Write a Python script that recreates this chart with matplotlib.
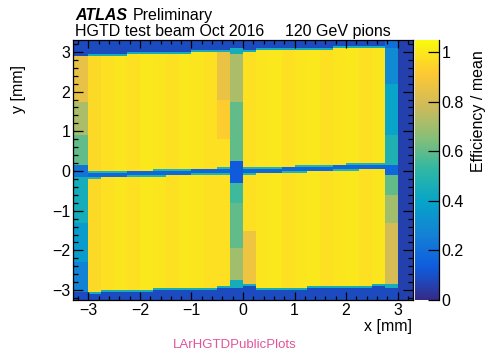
import numpy as np
import matplotlib
matplotlib.use('Agg')
import matplotlib.pyplot as plt
from matplotlib.colors import LinearSegmentedColormap, Normalize
from matplotlib.ticker import MultipleLocator

plt.rcParams['font.family'] = ['Liberation Sans', 'DejaVu Sans']

# ---- data ----
# x bins (mm): 26 columns
x_edges = np.array([-3.3] + list(np.arange(-3.0, 3.01, 0.25)) + [3.3])
# y bins (mm)
y_edges = np.arange(-3.3, 3.301, 0.05)

# efficiency level in the middle of each pad column (nan = special column)
pad_val = [np.nan, 0.96, 0.98, 0.99, 0.98, 1.00, 0.99, 0.98, 1.00, 0.99, 0.98, 0.98, np.nan,
           0.98, 0.99, 1.00, 0.98, 0.99, 1.00, 0.98, 0.99, 1.00, 0.98, 0.99, np.nan, np.nan]
# upper / lower edge of the sensitive pads per column
pad_top = [np.nan, 2.90, 2.91, 2.92, 2.93, 2.94, 2.95, 2.96, 2.97, 2.98, 3.00, 3.02, np.nan,
           3.02, 3.03, 3.04, 3.05, 3.06, 3.07, 3.07, 3.08, 3.09, 3.10, 3.10, np.nan, np.nan]
pad_bot = [np.nan, -3.05, -3.00, -3.00, -2.99, -2.98, -2.97, -2.96, -2.95, -2.94, -2.93, -2.92, np.nan,
           -2.84, -2.96, -2.95, -2.94, -2.93, -2.92, -2.91, -2.90, -2.89, -2.88, -2.86, np.nan, np.nan]
# centre of the horizontal inter-pad gap per column
gap_y = [np.nan, -0.10, -0.09, -0.08, -0.07, -0.06, -0.05, -0.04, -0.03, -0.02, -0.01, 0.00, np.nan,
         0.00, 0.01, 0.02, 0.04, 0.05, 0.06, 0.07, 0.08, 0.10, 0.11, 0.12, np.nan, np.nan]
gap_val = 0.17
edge_val = 0.45
dark_val = 0.09

# special columns: (y_high, y_low, value)
bands = {
    0: [(2.92, 1.75, 0.85), (1.75, 0.90, 0.72), (0.90, 0.15, 0.60), (0.15, -0.15, 0.22),
        (-0.15, -1.30, 0.45), (-1.30, -2.30, 0.36), (-2.30, -3.05, 0.27)],
    11: [(3.02, 1.80, 0.86), (1.80, 0.80, 0.93)],
    12: [(3.10, 2.97, 0.45), (2.97, 1.75, 0.72), (1.75, 0.25, 0.60), (0.25, -0.28, 0.13),
         (-0.28, -0.80, 0.55), (-0.80, -1.95, 0.60), (-1.95, -2.75, 0.70), (-2.75, -2.97, 0.45)],
    13: [(-1.50, -2.84, 0.87)],
    24: [(3.30, 3.10, 0.20), (3.10, 2.20, 0.30), (2.20, 0.90, 0.40), (0.90, 0.15, 0.48),
         (0.15, -0.10, 0.17), (-0.10, -0.60, 0.60), (-0.60, -1.30, 0.70), (-1.30, -2.84, 0.80),
         (-2.84, -2.95, 0.45)],
    25: [(3.30, -3.30, 0.06)],
}

# ---- build histogram ----
yc = 0.5 * (y_edges[1:] + y_edges[:-1])
ncol = len(x_edges) - 1
z = np.zeros((len(yc), ncol))
for j in range(ncol):
    col = np.full(len(yc), dark_val)
    top, bot = pad_top[j], pad_bot[j]
    if not np.isnan(top):
        col[(yc < top) & (yc > bot)] = pad_val[j]
        col[(yc >= top) & (yc < top + 0.05)] = edge_val
        col[(yc <= bot) & (yc > bot - 0.05)] = edge_val
    for hi, lo, v in bands.get(j, []):
        col[(yc < hi) & (yc >= lo)] = v
    g = gap_y[j]
    if not np.isnan(g):
        d = np.abs(yc - g)
        col[(d >= 0.05) & (d < 0.08)] = 0.5
        col[d < 0.05] = gap_val
    z[:, j] = col

# ROOT kBird palette
bird = [(0.2082, 0.1664, 0.5293), (0.0592, 0.3599, 0.8684), (0.0780, 0.5041, 0.8385),
        (0.0232, 0.6419, 0.7914), (0.1802, 0.7178, 0.6425), (0.5301, 0.7492, 0.4662),
        (0.8186, 0.7328, 0.3499), (0.9956, 0.7862, 0.1968), (0.9764, 0.9832, 0.0539)]
cmap = LinearSegmentedColormap.from_list('bird', bird, N=255)
norm = Normalize(vmin=0, vmax=1.05)

fig = plt.figure(figsize=(4.88, 3.51), dpi=100)
ax = fig.add_axes([73/488, 1 - 300/351, 340/488, 260/351])
cax = fig.add_axes([415/488, 1 - 300/351, 24/488, 260/351])

m = ax.pcolormesh(x_edges, y_edges, z, cmap=cmap, norm=norm)
ax.set_xlim(-3.3, 3.3)
ax.set_ylim(-3.25, 3.3)

fs = 11.5
minus = lambda v, p: f'{v:.0f}'.replace('-', '\u2212')
ax.xaxis.set_major_locator(MultipleLocator(1))
ax.xaxis.set_minor_locator(MultipleLocator(0.2))
ax.yaxis.set_major_locator(MultipleLocator(1))
ax.yaxis.set_minor_locator(MultipleLocator(0.2))
ax.tick_params(axis='both', which='both', direction='in', top=True, right=True,
               labelsize=fs, width=0.9, color='k')
ax.tick_params(axis='x', which='major', length=5.5, pad=2.5)
ax.tick_params(axis='x', which='minor', length=3)
ax.tick_params(axis='y', which='major', length=7.5, pad=2)
ax.tick_params(axis='y', which='minor', length=3.8)
ax.xaxis.set_major_formatter(plt.FuncFormatter(minus))
ax.yaxis.set_major_formatter(plt.FuncFormatter(minus))
for s in ax.spines.values():
    s.set_linewidth(0.9)

cb = fig.colorbar(m, cax=cax)
cb.outline.set_visible(False)
cb.set_ticks([0, 0.2, 0.4, 0.6, 0.8, 1])
cb.ax.yaxis.set_major_formatter(plt.FuncFormatter(lambda v, p: f'{v:g}'))
cax.tick_params(axis='y', which='major', direction='in', length=8, width=0.9,
                labelsize=fs, pad=2, right=True, left=False)
cax.minorticks_off()
cax.axvline(1, color='k', lw=0.9, clip_on=False)

fig.text(75/488, 1 - 20/351, 'ATLAS', fontsize=fs, fontweight='bold', fontstyle='italic', va='baseline')
fig.text(133/488, 1 - 20/351, 'Preliminary', fontsize=fs, va='baseline')
fig.text(75/488, 1 - 36/351, 'HGTD test beam Oct 2016', fontsize=fs, va='baseline')
fig.text(285/488, 1 - 36/351, '120 GeV pions', fontsize=fs, va='baseline')

fig.text(18/488, 1 - 89/351, 'y [mm]', rotation=90, fontsize=fs, ha='center', va='center')
fig.text(412/488, 1 - 319/351, 'x [mm]', fontsize=fs, ha='right', va='top')
fig.text(479/488, 1 - 111/351, 'Efficiency / mean', rotation=90, fontsize=fs, ha='center', va='center')
fig.text(235/488, 1 - 345/351, 'LArHGTDPublicPlots', fontsize=9.5, color='#e0559b', ha='center', va='center')

fig.savefig('out.png', dpi=100)
